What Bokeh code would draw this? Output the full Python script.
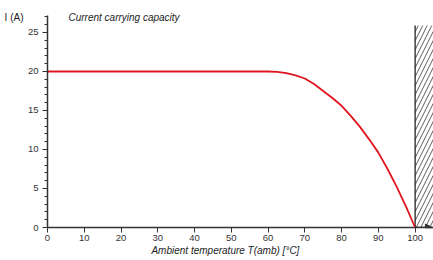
from bokeh.plotting import figure
from bokeh.models import (Range1d, SingleIntervalTicker, FixedTicker, Label, Arrow, NormalHead,
                          LinearAxis)
from bokeh.embed import file_html
from bokeh.resources import INLINE

# Data
temperature = [0, 60, 62.5, 65, 67.5, 70, 72.5, 75, 77.5, 80, 82.5, 85, 87.5, 90, 92.5, 95, 97.5, 100]
current = [20, 20, 19.95, 19.8, 19.5, 19.1, 18.4, 17.5, 16.6, 15.6, 14.3, 12.9, 11.3, 9.6, 7.5, 5.2, 2.7, 0]
max_temp = 100
hatch_top = 25.9
y_axis_top = 27.2
x_ticks_interval = 10
y_ticks_interval = 5

title_text = "Current carrying capacity"
y_label_text = "I (A)"
x_label_text = "Ambient temperature T(amb) [°C]"

FONT = "Liberation Sans"
AX = "#333333"
TXT = "#222222"

p = figure(frame_width=386, frame_height=227, output_backend="svg", toolbar_location=None,
           x_range=Range1d(0, 105), y_range=Range1d(0, 29.1),
           min_border_left=47, min_border_right=0, min_border_top=0, min_border_bottom=33)
p.outline_line_color = None
p.xgrid.visible = False
p.ygrid.visible = False
p.background_fill_color = "white"
p.border_fill_color = "white"

for ax in (p.xaxis[0], p.yaxis[0]):
    ax.axis_line_color = AX
    ax.axis_line_width = 1.5
    ax.major_tick_line_color = AX
    ax.minor_tick_line_color = AX
    ax.major_tick_in = 0
    ax.major_tick_out = 5
    ax.minor_tick_in = 0
    ax.minor_tick_out = 3
    ax.major_label_text_font = FONT
    ax.major_label_text_font_size = "9.5px"
    ax.major_label_text_color = AX

p.xaxis[0].ticker = SingleIntervalTicker(interval=x_ticks_interval, num_minor_ticks=0)
p.yaxis[0].ticker = SingleIntervalTicker(interval=y_ticks_interval, num_minor_ticks=5)
p.yaxis[0].bounds = (0, y_axis_top)
p.xaxis[0].major_label_standoff = 2
p.yaxis[0].major_label_standoff = 4

# y-axis unit label (as a lone tick label of an unlined axis, outside the frame)
y_unit_pos = 26.9
ylab_axis = LinearAxis(ticker=FixedTicker(ticks=[y_unit_pos]),
                       major_label_overrides={y_unit_pos: y_label_text},
                       axis_line_color=None, major_tick_line_color=None,
                       minor_tick_line_color=None, major_tick_out=0, major_tick_in=0,
                       major_label_standoff=1, major_label_text_font=FONT,
                       major_label_text_font_size="10px", major_label_text_color=TXT)
p.add_layout(ylab_axis, "left")

# x-axis title (as a lone tick label of an unlined axis below)
x_label_pos = 48.4
xlab_axis = LinearAxis(ticker=FixedTicker(ticks=[x_label_pos]),
                       major_label_overrides={x_label_pos: x_label_text},
                       axis_line_color=None, major_tick_line_color=None,
                       minor_tick_line_color=None, major_tick_out=0, major_tick_in=0,
                       major_label_standoff=1, major_label_text_font=FONT,
                       major_label_text_font_size="10px", major_label_text_color=TXT,
                       major_label_text_font_style="italic")
p.add_layout(xlab_axis, "below")

# hatched forbidden region
p.quad(left=max_temp, right=105, bottom=0, top=hatch_top, fill_alpha=0,
       hatch_pattern="/", hatch_color="#333333", hatch_scale=9, hatch_weight=0.8,
       line_color=None)
p.segment(x0=max_temp, y0=0, x1=max_temp, y1=hatch_top, line_color=TXT, line_width=1.3)

# derating curve
p.line(temperature, current, line_color="#e0161e", line_width=1.8)

# arrow on x axis
p.add_layout(Arrow(x_start=max_temp, y_start=0, x_end=104.7, y_end=0, line_color=AX,
                   line_width=1.5,
                   end=NormalHead(size=7, fill_color=AX, line_color=AX)))

p.add_layout(Label(x=5.7, y=26.9, text=title_text, text_font=FONT, text_font_size="10px",
                   text_font_style="italic", text_color=TXT, text_baseline="middle"))

open("out.html", "w").write(file_html(p, INLINE))
